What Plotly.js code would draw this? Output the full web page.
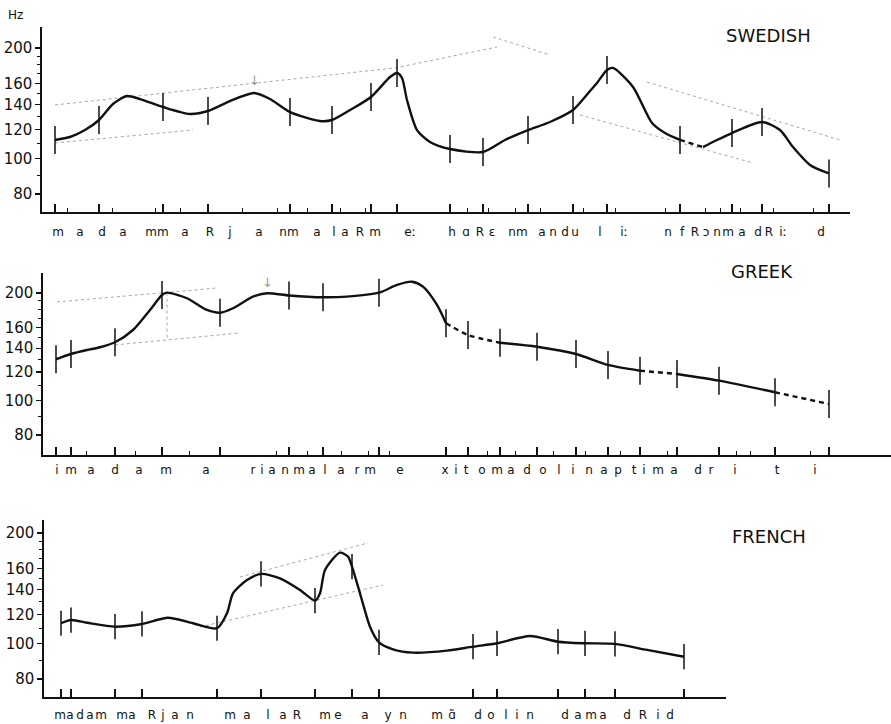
<!DOCTYPE html>
<html><head><meta charset="utf-8">
<script src="https://cdn.plot.ly/plotly-3.0.1.min.js"></script>
<style>html,body{margin:0;padding:0;background:#fff}#chart{width:891px;height:724px}</style>
</head><body><div id="chart"></div>
<script>
// ---------- DATA (time in arbitrary units from the axis origin, F0 in Hz) ----------
const hzTicks = [80, 100, 120, 140, 160, 200];
const hzTickText = ['80', '100', '120', '140', '160', '200'];
const hzMinor = [90, 110, 130, 150, 170, 180, 190];

// SWEDISH
const swT1 = [13,28,43,57,71,85,98,121,148,166,188,212,228,248,278,290,308,329,348,355,360,365,375,388,408,441,463,486,508,531,548,555,565,571,591,610,623,638];
const swF1 = [112.3,114.4,119.5,127.3,140.7,148,145.2,138.1,132.2,134.7,143.4,150.8,145.2,133.8,126.5,127.3,135.5,147.1,166.7,171,165.7,144.3,119.5,110.9,106.1,104.1,112.3,119.5,125.7,135.5,152.7,160.6,174.3,176.5,156.6,124.9,117.3,112.3];
const swTd = [638, 661];
const swFd = [112.3, 107.4];
const swT2 = [661,675,690,720,738,751,768,787];
const swF2 = [107.4,112.3,117.3,125.7,119.5,107.4,96,91];
const swBarT = [13,57,121,166,248,290,329,355,408,441,486,531,565,638,690,720,787];
const swBarF = [112.3,127.3,138.1,134.7,133.8,127.3,147.1,171,106.1,104.1,119.5,135.5,174.3,112.3,117.3,125.7,91];
const swMinorT = [25,70,113,138,200,235,265,298,323,425,446,473,498,541,573,623,663,678,698,731,771];
const swPhonT = [16,38,60,81,115,143,168,188,217,247,275,292,303,318,333,368,410,424,438,450,476,500,511,523,533,558,582,626,640,653,664,675,686,700,716,727,741,779];
const swPhon = ['m','a','d','a','mm','a','R','j','a','nm','a','l','a','R','m','eː','h','ɑ','R','ɛ','nm','a','n','d','u','l','iː','n','f','R','ɔ','n','m','a','d','R','iː','d'];
const swGreyA_T = [13,258,353,455];   const swGreyA_F = [139.9,165.7,176.5,201.3];
const swGreyB_T = [13,151];           const swGreyB_F = [110.2,119.5];
const swGreyC_T = [538,711];          const swGreyC_F = [131.4,97.2];
const swGreyD_T = [605,798];          const swGreyD_F = [161.6,112.3];
const swGreyE_T = [451,508];          const swGreyE_F = [214.4,191.5];

// GREEK
const grT1 = [13,28,44,57,72,90,107,119,124,144,164,177,190,210,224,246,280,304,336,354,369,380,394,403];
const grF1 = [130.4,134.9,138.4,140.9,145.5,157.5,179.2,197.4,200.4,193.3,179.2,176.1,181.2,195.3,199.6,196.8,194.5,195.3,200.4,210.6,215.1,208.3,185.1,164.5];
const grTd1 = [403,425,457];  const grFd1 = [164.5,152.5,145.1];
const grT2 = [457,494,533,565,597];  const grF2 = [145.1,141.4,134.9,125.7,121.1];
const grTd2 = [597,634];  const grFd2 = [121.1,118.6];
const grT3 = [634,676,732];  const grF3 = [118.6,113.6,105.4];
const grTd3 = [732,786];  const grFd3 = [105.4,97.7];
const grBarT = [13,28,72,119,177,246,280,336,403,425,457,494,533,565,597,634,676,732,786];
const grBarF = [130.4,134.9,145.5,197.4,176.1,196.8,194.5,200.4,164.5,152.5,145.1,141.4,134.9,125.7,121.1,118.6,113.6,105.4,97.7];
const grMinorT = [43,92,146,233,264,298,325,346,444,472,510,542,577,624,693,707,767];
const grPhonT = [14,28,48,72,96,123,163,210,219,229,242,256,269,282,298,314,327,357,402,413,423,439,454,468,484,500,516,530,546,561,575,591,601,615,631,655,668,692,734,772];
const grPhon = ['i','m','a','d','a','m','a','r','i','a','n','m','a','l','a','r','m','e','x','i','t','o','m','a','d','o','l','i','n','a','p','t','i','m','a','d','r','i','t','i'];
const grGreyA_T = [14,174];  const grGreyA_F = [188.7,206.5];
const grGreyB_T = [72,197];  const grGreyB_F = [143,154.5];
const grGreyC_T = [124,124]; const grGreyC_F = [200.4,147.7];

// FRENCH
const frT = [17,27,43,71,98,124,149,173,183,189,203,217,236,256,271,276,281,296,304,308,316,326,335,349,369,403,429,453,486,514,541,571,603,640];
const frF = [113.5,115.8,113.9,111.1,113,117.5,113.5,110,120.8,137,148.9,154.7,150.5,139.9,130.8,137,158.6,176.8,172.4,161.9,137,111.1,100.7,96.4,94.4,95.6,98,100.1,104.8,101.1,100.1,99.7,96,92];
const frBarT = [17,27,71,98,173,217,271,308,335,429,453,514,541,571,640];
const frBarF = [113.5,115.8,111.1,113,110,154.7,130.8,161.9,100.7,98,100.1,101.1,100.1,99.7,92];
const frMinorT = [];
const frPhonT = [16,26,36,46,57,78,88,108,119,131,146,186,203,224,239,253,281,294,321,344,359,393,408,434,447,462,473,486,521,534,547,559,583,599,614,626];
const frPhon = ['m','a','d','a','m','m','a','R','j','a','n','m','a','l','a','R','m','e','a','y','n','m','ɑ̃','d','o','l','i','n','d','a','m','a','d','R','i','d'];
const frGreyA_T = [196,324];  const frGreyA_F = [151.7,187.9];
const frGreyB_T = [156,339];  const frGreyB_F = [110.9,144.3];

// ---------- CHART ----------
const FONT = 'DejaVu Sans, sans-serif';
const INK = '#111';
const W = 891, H = 724;

function line(t, f, xa, ya, dash) {
  return {x: t, y: f, xaxis: xa, yaxis: ya, mode: 'lines', hoverinfo: 'skip',
    line: {color: INK, width: 2.4, shape: 'spline', smoothing: 0.7, dash: dash || 'solid'}};
}
function grey(t, f, xa, ya) {
  return {x: t, y: f, xaxis: xa, yaxis: ya, mode: 'lines', hoverinfo: 'skip',
    line: {color: '#a8a8a8', width: 1, dash: 'dot'}};
}
function bars(t, f, xa, ya, size) {
  return {x: t, y: f, xaxis: xa, yaxis: ya, mode: 'markers', hoverinfo: 'skip', cliponaxis: false,
    marker: {symbol: 'line-ns', size: size, color: INK, line: {color: INK, width: 1.5}}};
}
function dummy(xa, ya) {
  return {x: [0], y: [100], xaxis: xa, yaxis: ya, mode: 'markers', marker: {opacity: 0}, hoverinfo: 'skip'};
}
function yAxis(lo, hi, top, bottom, anchor) {
  return {type: 'log', range: [Math.log10(lo), Math.log10(hi)], domain: [1 - bottom / H, 1 - top / H], anchor: anchor,
    tickmode: 'array', tickvals: hzTicks, ticktext: hzTickText, ticks: 'outside', ticklen: 5, tickwidth: 1.3, tickcolor: INK,
    showline: true, linewidth: 1.6, linecolor: INK, showgrid: false, zeroline: false,
    tickfont: {family: FONT, size: 15, color: INK},
    minor: {tickmode: 'array', tickvals: hzMinor, ticks: 'outside', ticklen: 3, tickwidth: 1, tickcolor: INK, showgrid: false}};
}
function xAxis(x0, x1, anchor, major, minor) {
  return {range: [0, x1 - x0], domain: [x0 / W, x1 / W], anchor: anchor,
    showline: true, linewidth: 1.6, linecolor: INK, showgrid: false, zeroline: false, showticklabels: false,
    tickmode: 'array', tickvals: major, ticks: 'inside', ticklen: 8, tickwidth: 1.3, tickcolor: INK,
    minor: {tickmode: 'array', tickvals: minor, ticks: 'inside', ticklen: 4, tickwidth: 1, tickcolor: INK, showgrid: false}};
}
function phonAxis(x0, x1, over, anchor, vals, text, gap) {
  return {range: [0, x1 - x0], overlaying: over, anchor: anchor, side: 'bottom',
    showline: false, showgrid: false, zeroline: false,
    tickmode: 'array', tickvals: vals, ticktext: text, ticks: 'outside', ticklen: gap, tickcolor: 'rgba(0,0,0,0)',
    tickangle: 0, tickfont: {family: FONT, size: 12, color: INK}};
}

const data = [
  grey(swGreyA_T, swGreyA_F, 'x', 'y'), grey(swGreyB_T, swGreyB_F, 'x', 'y'), grey(swGreyC_T, swGreyC_F, 'x', 'y'),
  grey(swGreyD_T, swGreyD_F, 'x', 'y'), grey(swGreyE_T, swGreyE_F, 'x', 'y'),
  line(swT1, swF1, 'x', 'y'), line(swTd, swFd, 'x', 'y', '5px,4px'), line(swT2, swF2, 'x', 'y'),
  bars(swBarT, swBarF, 'x', 'y', 20),

  grey(grGreyA_T, grGreyA_F, 'x2', 'y2'), grey(grGreyB_T, grGreyB_F, 'x2', 'y2'), grey(grGreyC_T, grGreyC_F, 'x2', 'y2'),
  line(grT1, grF1, 'x2', 'y2'), line(grTd1, grFd1, 'x2', 'y2', '5px,4px'), line(grT2, grF2, 'x2', 'y2'),
  line(grTd2, grFd2, 'x2', 'y2', '5px,4px'), line(grT3, grF3, 'x2', 'y2'), line(grTd3, grFd3, 'x2', 'y2', '5px,4px'),
  bars(grBarT, grBarF, 'x2', 'y2', 20),

  grey(frGreyA_T, frGreyA_F, 'x3', 'y3'), grey(frGreyB_T, frGreyB_F, 'x3', 'y3'),
  line(frT, frF, 'x3', 'y3'),
  bars(frBarT, frBarF, 'x3', 'y3', 18),

  dummy('x4', 'y'), dummy('x5', 'y2'), dummy('x6', 'y3')
];

const layout = {
  width: W, height: H, margin: {l: 0, r: 0, t: 0, b: 0},
  paper_bgcolor: '#fff', plot_bgcolor: 'rgba(0,0,0,0)', showlegend: false,
  font: {family: FONT, color: INK},
  xaxis: xAxis(42, 850, 'y', swBarT, swMinorT),
  yaxis: yAxis(71.45, 228.2, 27, 212, 'x'),
  xaxis2: xAxis(43, 891, 'y2', grBarT, grMinorT),
  yaxis2: yAxis(70.3, 227.5, 273, 455, 'x2'),
  xaxis3: xAxis(44, 726, 'y3', frBarT, frMinorT),
  yaxis3: yAxis(71.45, 217, 520, 697, 'x3'),
  xaxis4: phonAxis(42, 850, 'x', 'y', swPhonT, swPhon, 9),
  xaxis5: phonAxis(43, 891, 'x2', 'y2', grPhonT, grPhon, 4),
  xaxis6: phonAxis(44, 726, 'x3', 'y3', frPhonT, frPhon, 7),
  annotations: [
    {text: 'Hz', xref: 'paper', yref: 'paper', x: 15 / W, y: 1 - 15 / H, showarrow: false, xanchor: 'center', yanchor: 'middle', font: {family: FONT, size: 12, color: INK}},
    {text: 'SWEDISH', xref: 'paper', yref: 'paper', x: 768 / W, y: 1 - 36 / H, showarrow: false, xanchor: 'center', yanchor: 'middle', font: {family: FONT, size: 18, color: INK}},
    {text: 'GREEK', xref: 'paper', yref: 'paper', x: 762 / W, y: 1 - 272 / H, showarrow: false, xanchor: 'center', yanchor: 'middle', font: {family: FONT, size: 18, color: INK}},
    {text: 'FRENCH', xref: 'paper', yref: 'paper', x: 769 / W, y: 1 - 536 / H, showarrow: false, xanchor: 'center', yanchor: 'middle', font: {family: FONT, size: 18, color: INK}},
    {text: '↓', xref: 'x', yref: 'y', x: 212, y: Math.log10(163.6), showarrow: false, font: {family: FONT, size: 13, color: '#999'}},
    {text: '↓', xref: 'x2', yref: 'y2', x: 224, y: Math.log10(214.6), showarrow: false, font: {family: FONT, size: 13, color: '#999'}}
  ]
};

Plotly.newPlot('chart', data, layout, {staticPlot: true, displayModeBar: false});
</script></body></html>
